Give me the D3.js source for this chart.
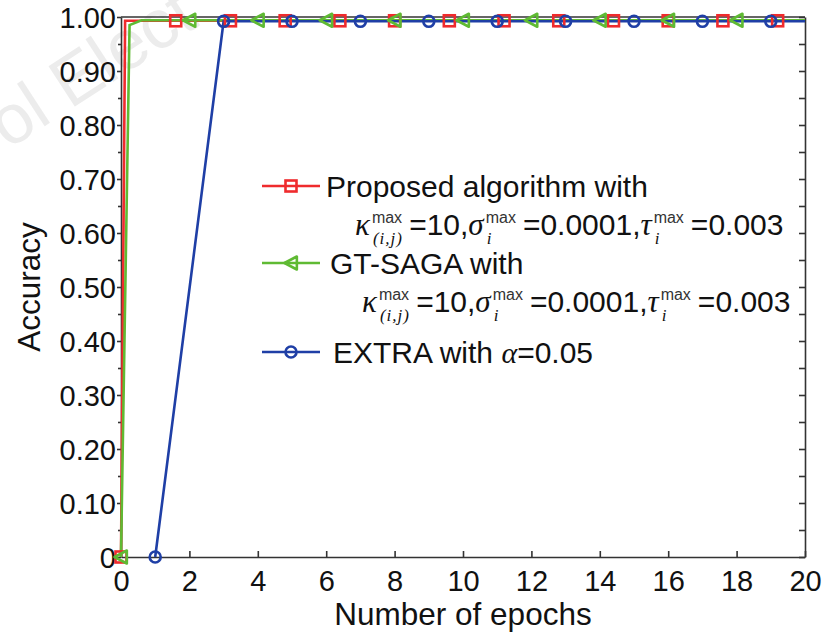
<!DOCTYPE html>
<html>
<head>
<meta charset="utf-8">
<script src="https://cdn.jsdelivr.net/npm/d3@7"></script>
<style>
  html, body { margin: 0; padding: 0; background: #fff; }
  svg { display: block; }
  text { font-family: "Liberation Sans", Arial, Helvetica, sans-serif; fill: #111; }
</style>
</head>
<body>
<svg id="chart" width="840" height="634"></svg>
<script>
// ------------------------------------------------------------
// data
// ------------------------------------------------------------
const xTickValues = [0, 2, 4, 6, 8, 10, 12, 14, 16, 18, 20];
const yTickValues = [0, 0.1, 0.2, 0.3, 0.4, 0.5, 0.6, 0.7, 0.8, 0.9, 1.0];
const yTickLabels = ['0', '0.10', '0.20', '0.30', '0.40', '0.50', '0.60', '0.70', '0.80', '0.90', '1.00'];
const yMinorValues = [0.05, 0.15, 0.25, 0.35, 0.45, 0.55, 0.65, 0.75, 0.85, 0.95];

// Proposed algorithm
const proposedEpochs = [0, 0.12, 1.6, 3.2, 4.8, 6.4, 8.0, 9.6, 11.2, 12.8, 14.4, 16.0, 17.6, 19.2, 20];
const proposedAcc    = [0, 0.993, 0.993, 0.993, 0.993, 0.993, 0.993, 0.993, 0.993, 0.993, 0.993, 0.993, 0.993, 0.993, 0.993];
const proposedMarked = [1, 0, 1, 1, 1, 1, 1, 1, 1, 1, 1, 1, 1, 1, 0];

// GT-SAGA
const gtsagaEpochs = [0, 0.25, 0.6, 2, 4, 6, 8, 10, 12, 14, 16, 18, 20];
const gtsagaAcc    = [0, 0.985, 0.994, 0.994, 0.994, 0.994, 0.994, 0.994, 0.994, 0.994, 0.994, 0.994, 0.994];
const gtsagaMarked = [1, 0, 0, 1, 1, 1, 1, 1, 1, 1, 1, 1, 0];

// EXTRA
const extraEpochs = [1, 3, 5, 7, 9, 11, 13, 15, 17, 19, 20];
const extraAcc    = [0, 0.992, 0.992, 0.992, 0.992, 0.992, 0.992, 0.992, 0.992, 0.992, 0.992];
const extraMarked = [1, 1, 1, 1, 1, 1, 1, 1, 1, 1, 0];

const RED = '#ef2b2d';
const GREEN = '#5fba33';
const BLUE = '#1f3fa6';

// ------------------------------------------------------------
// layout
// ------------------------------------------------------------
const svg = d3.select('#chart');
const plot = { left: 121, right: 805, top: 17, bottom: 557 };

const x = d3.scaleLinear().domain([0, 20]).range([plot.left, plot.right]);
const y = d3.scaleLinear().domain([0, 1]).range([plot.bottom, plot.top]);

// faint watermark of the source scan
svg.append('text')
  .attr('transform', 'translate(8,150) rotate(-33)')
  .style('font-size', '70px')
  .style('fill', '#ececec')
  .text('ol Elect');

// ------------------------------------------------------------
// axes
// ------------------------------------------------------------
const axisColor = '#333';

const xAxis = svg.append('g')
  .attr('transform', `translate(0,${plot.bottom})`)
  .call(d3.axisBottom(x).tickValues(xTickValues).tickFormat(d3.format('d'))
    .tickSizeInner(-6).tickSizeOuter(0).tickPadding(13));

const yAxis = svg.append('g')
  .attr('transform', `translate(${plot.left},0)`)
  .call(d3.axisLeft(y).tickValues(yTickValues).tickFormat((d, i) => yTickLabels[i])
    .tickSizeInner(4).tickSizeOuter(0).tickPadding(1));

svg.append('g')
  .attr('transform', `translate(${plot.left},0)`)
  .call(d3.axisLeft(y).tickValues(yMinorValues).tickFormat('').tickSizeInner(3).tickSizeOuter(0))
  .call((g) => g.select('.domain').remove());

svg.append('g')
  .attr('transform', `translate(${plot.right},0)`)
  .call(d3.axisRight(y).tickValues(yTickValues.concat(yMinorValues)).tickFormat('')
    .tickSizeInner(-6).tickSizeOuter(0));

svg.append('line')
  .attr('x1', plot.left).attr('x2', plot.right)
  .attr('y1', plot.top).attr('y2', plot.top);

svg.selectAll('.domain, .tick line, line')
  .attr('stroke', axisColor)
  .attr('stroke-width', 1.6);

xAxis.selectAll('.tick text').style('font-size', '29px').attr('fill', '#111');
yAxis.selectAll('.tick text').style('font-size', '29px').attr('fill', '#111').attr('dy', '0.36em');

// axis titles
svg.append('text')
  .attr('x', (plot.left + plot.right) / 2)
  .attr('y', 625)
  .attr('text-anchor', 'middle')
  .style('font-size', '31.5px')
  .text('Number of epochs');

svg.append('text')
  .attr('transform', 'translate(40,287) rotate(-90)')
  .attr('text-anchor', 'middle')
  .style('font-size', '31.5px')
  .text('Accuracy');

// ------------------------------------------------------------
// series
// ------------------------------------------------------------
const series = [
  { name: 'proposed', color: RED, shape: 'square', xs: proposedEpochs, ys: proposedAcc, marked: proposedMarked },
  { name: 'gtsaga', color: GREEN, shape: 'triangle', xs: gtsagaEpochs, ys: gtsagaAcc, marked: gtsagaMarked },
  { name: 'extra', color: BLUE, shape: 'circle', xs: extraEpochs, ys: extraAcc, marked: extraMarked }
];

const line = d3.line().x((d) => x(d[0])).y((d) => y(d[1]));

function drawMarker(g, shape, cx, cy, color) {
  if (shape === 'square') {
    g.append('rect')
      .attr('x', cx - 5.5).attr('y', cy - 5.5)
      .attr('width', 11).attr('height', 11)
      .attr('fill', 'none').attr('stroke', color).attr('stroke-width', 2.6);
  } else if (shape === 'triangle') {
    const s = 6.5;
    g.append('path')
      .attr('d', `M${cx - s},${cy} L${cx + s * 0.9},${cy - s} L${cx + s * 0.9},${cy + s} Z`)
      .attr('fill', 'none').attr('stroke', color).attr('stroke-width', 2.6)
      .attr('stroke-linejoin', 'round');
  } else {
    g.append('circle')
      .attr('cx', cx).attr('cy', cy).attr('r', 5.5)
      .attr('fill', 'none').attr('stroke', color).attr('stroke-width', 2.6);
  }
}

const plotG = svg.append('g');

series.forEach((s) => {
  const pts = s.xs.map((v, i) => [v, s.ys[i]]);
  plotG.append('path')
    .datum(pts)
    .attr('d', line)
    .attr('fill', 'none')
    .attr('stroke', s.color)
    .attr('stroke-width', 2.6);
});

series.forEach((s) => {
  const mg = plotG.append('g');
  s.xs.forEach((v, i) => {
    if (s.marked[i]) drawMarker(mg, s.shape, x(v), y(s.ys[i]), s.color);
  });
});

// ------------------------------------------------------------
// legend
// ------------------------------------------------------------
const legend = svg.append('g');

function legendEntry(cy, color, shape) {
  legend.append('line')
    .attr('x1', 262).attr('x2', 320)
    .attr('y1', cy).attr('y2', cy)
    .attr('stroke', color).attr('stroke-width', 2.6);
  drawMarker(legend, shape, 291, cy, color);
}

function legendText(tx, ty, label) {
  legend.append('text')
    .attr('x', tx).attr('y', ty)
    .style('font-size', '30px')
    .text(label);
}

// math line: κ^max_(i,j) =10, σ^max_i =0.0001, τ^max_i =0.003
function mathLine(x0, baseY) {
  const parts = [
    { sym: 'κ', sup: 'max', sub: '(i,j)' },
    { txt: '=10,' },
    { sym: 'σ', sup: 'max', sub: 'i' },
    { txt: '=0.0001,' },
    { sym: 'τ', sup: 'max', sub: 'i' },
    { txt: '=0.003' }
  ];
  let cx = x0;
  parts.forEach((p) => {
    if (p.txt) {
      const t = legend.append('text')
        .attr('x', cx + 4).attr('y', baseY)
        .style('font-size', '30px')
        .text(p.txt);
      cx += 4 + t.node().getComputedTextLength();
    } else {
      const s = legend.append('text')
        .attr('x', cx).attr('y', baseY)
        .style('font-family', '"Liberation Serif", "Times New Roman", serif')
        .style('font-style', 'italic')
        .style('font-size', '31px')
        .text(p.sym);
      cx += s.node().getComputedTextLength() + 2;
      const sup = legend.append('text')
        .attr('x', cx).attr('y', baseY - 12)
        .style('font-size', '16px')
        .style('fill', '#333')
        .text(p.sup);
      const sub = legend.append('text')
        .attr('x', cx + 1).attr('y', baseY + 9)
        .style('font-family', '"Liberation Serif", "Times New Roman", serif')
        .style('font-style', 'italic')
        .style('font-size', '17px')
        .style('letter-spacing', '1px')
        .text(p.sub);
      cx += Math.max(sup.node().getComputedTextLength(), sub.node().getComputedTextLength()) + 3;
    }
  });
}

legendEntry(186, RED, 'square');
legendText(326, 197, 'Proposed algorithm with');
mathLine(355, 235);

legendEntry(263, GREEN, 'triangle');
legendText(330, 274, 'GT-SAGA with');
mathLine(362, 312);

legendEntry(352, BLUE, 'circle');
const extraText = legend.append('text')
  .attr('x', 333).attr('y', 363)
  .style('font-size', '30px');
extraText.append('tspan').text('EXTRA with ');
extraText.append('tspan')
  .style('font-family', '"Liberation Serif", "Times New Roman", serif')
  .style('font-style', 'italic')
  .text('α');
extraText.append('tspan').text('=0.05');
</script>
</body>
</html>
